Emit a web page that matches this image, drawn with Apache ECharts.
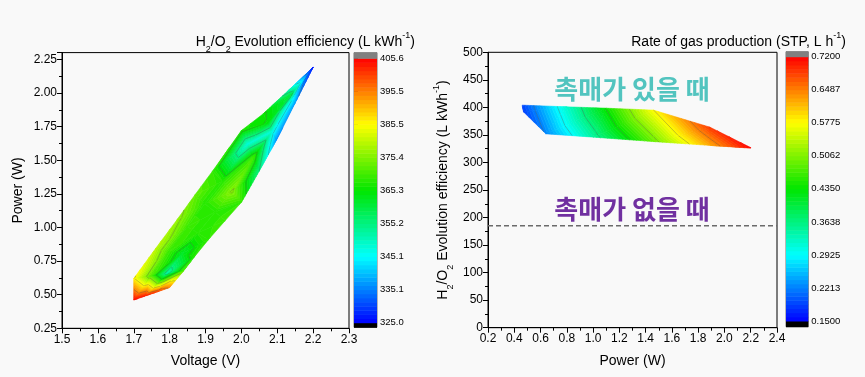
<!DOCTYPE html>
<html>
<head>
<meta charset="utf-8">
<script src="https://cdn.jsdelivr.net/npm/echarts@6/dist/echarts.min.js"></script>
<style>
  html, body { margin: 0; padding: 0; background: #f9f9f9; }
  #main { width: 865px; height: 377px; }
</style>
</head>
<body>
<div id="main"></div>
<script>
// ---- left: efficiency over (voltage, power); rows bottom -> top, columns left edge -> right edge
var effVolt = [
  [1.700, 1.733, 1.767, 1.800],
  [1.700, 1.747, 1.793, 1.840],
  [1.760, 1.797, 1.833, 1.870],
  [1.820, 1.849, 1.879, 1.908],
  [1.870, 1.898, 1.927, 1.955],
  [1.920, 1.947, 1.974, 2.001],
  [2.000, 2.017, 2.033, 2.050],
  [2.061, 2.073, 2.086, 2.098],
  [2.130, 2.137, 2.143, 2.150],
  [2.200, 2.200, 2.200, 2.200]
];
var effPower = [
  [0.460, 0.491, 0.522, 0.553],
  [0.620, 0.640, 0.660, 0.680],
  [0.840, 0.821, 0.803, 0.784],
  [1.055, 1.006, 0.958, 0.909],
  [1.240, 1.177, 1.114, 1.051],
  [1.420, 1.343, 1.267, 1.190],
  [1.720, 1.620, 1.520, 1.420],
  [1.845, 1.780, 1.715, 1.650],
  [2.016, 1.986, 1.955, 1.925],
  [2.190, 2.190, 2.190, 2.190]
];
var effValue = [
  [405, 403, 400, 395],
  [386, 372, 352, 371],
  [380, 370, 362, 368],
  [377, 370, 368, 369],
  [373, 368, 368, 370],
  [369, 368, 376, 369],
  [367, 348, 370, 355],
  [366, 365, 348, 336],
  [352, 360, 345, 337],
  [327, 327, 327, 327]
];
var effRange = [325.0, 405.6];
var effTicks = [325.0, 335.075, 345.15, 355.225, 365.3, 375.375, 385.45, 395.525, 405.6];
var effTickLabels = ['325.0', '335.1', '345.1', '355.2', '365.3', '375.4', '385.5', '395.5', '405.6'];

// ---- right: gas production rate over (power, efficiency); row 0 = lower edge, row 1 = upper edge
var ratePower = [
  [0.47, 0.64, 1.00, 1.46, 1.89, 2.20],
  [0.46, 0.80, 1.10, 1.46, 1.89, 2.20]
];
var rateEff = [
  [392, 352, 346, 338, 331, 326],
  [404, 401, 398.5, 395, 364, 327]
];
var rateValue = [
  [0.184, 0.225, 0.346, 0.493, 0.626, 0.717],
  [0.186, 0.321, 0.438, 0.577, 0.688, 0.719]
];
var rateRange = [0.15, 0.72];
var rateTicks = [0.15, 0.22125, 0.2925, 0.36375, 0.435, 0.50625, 0.5775, 0.64875, 0.72];
var rateTickLabels = ['0.1500', '0.2213', '0.2925', '0.3638', '0.4350', '0.5062', '0.5775', '0.6487', '0.7200'];

var noCatalystEff = 185;

var FONT = '"Liberation Sans", Arial, sans-serif';
var nBands = 64;
var rainbowStops = [
  [0, [0, 0, 255]],
  [0.25, [0, 255, 255]],
  [0.5, [0, 230, 0]],
  [0.75, [255, 255, 0]],
  [1, [255, 0, 0]]
];

function rainbow(t) {
  t = Math.max(0, Math.min(1, t));
  for (var i = 1; i < rainbowStops.length; i++) {
    if (t <= rainbowStops[i][0]) {
      var a = rainbowStops[i - 1], b = rainbowStops[i];
      var f = (t - a[0]) / (b[0] - a[0]);
      var c = a[1].map(function (v, k) { return Math.round(v + f * (b[1][k] - v)); });
      return 'rgb(' + c.join(',') + ')';
    }
  }
  return 'rgb(255,0,0)';
}

// split grid cells into triangles [x,y,v, x,y,v, x,y,v]
function triangles(xs, ys, vs) {
  var out = [];
  for (var r = 0; r < xs.length - 1; r++) {
    for (var c = 0; c < xs[r].length - 1; c++) {
      var a = [xs[r][c], ys[r][c], vs[r][c]];
      var b = [xs[r][c + 1], ys[r][c + 1], vs[r][c + 1]];
      var cc = [xs[r + 1][c + 1], ys[r + 1][c + 1], vs[r + 1][c + 1]];
      var d = [xs[r + 1][c], ys[r + 1][c], vs[r + 1][c]];
      out.push(a.concat(b, cc));
      out.push(a.concat(cc, d));
    }
  }
  return out;
}

function clip(poly, lv, above) {
  var out = [];
  for (var i = 0; i < poly.length; i++) {
    var a = poly[i], b = poly[(i + 1) % poly.length];
    var ina = above ? a[2] >= lv : a[2] <= lv;
    var inb = above ? b[2] >= lv : b[2] <= lv;
    if (ina) out.push(a);
    if (ina !== inb) {
      var t = (lv - a[2]) / (b[2] - a[2]);
      out.push([a[0] + t * (b[0] - a[0]), a[1] + t * (b[1] - a[1]), lv]);
    }
  }
  return out;
}

function contourRender(range, levels) {
  var lo = range[0], hi = range[1];
  var step = (hi - lo) / nBands;
  return function (params, api) {
    var pts = [0, 1, 2].map(function (k) {
      var p = api.coord([api.value(k * 3), api.value(k * 3 + 1)]);
      return [p[0], p[1], api.value(k * 3 + 2)];
    });
    var vals = pts.map(function (p) { return p[2]; });
    var vmin = Math.min.apply(null, vals), vmax = Math.max.apply(null, vals);
    var i0 = Math.max(0, Math.floor((vmin - lo) / step));
    var i1 = Math.min(nBands - 1, Math.floor((vmax - lo) / step));
    var children = [];
    for (var i = i0; i <= i1; i++) {
      var poly = pts;
      if (i > 0) poly = clip(poly, lo + i * step, true);
      if (i < nBands - 1) poly = clip(poly, lo + (i + 1) * step, false);
      if (poly.length < 3) continue;
      var col = rainbow((i + 0.5) / nBands);
      children.push({
        type: 'polygon',
        shape: { points: poly.map(function (p) { return [p[0], p[1]]; }) },
        style: { fill: col, stroke: col, lineWidth: 0.6 }
      });
    }
    levels.forEach(function (L) {
      var seg = [];
      for (var k = 0; k < 3; k++) {
        var a = pts[k], b = pts[(k + 1) % 3];
        if ((a[2] - L) * (b[2] - L) < 0) {
          var t = (L - a[2]) / (b[2] - a[2]);
          seg.push([a[0] + t * (b[0] - a[0]), a[1] + t * (b[1] - a[1])]);
        }
      }
      if (seg.length === 2) {
        children.push({
          type: 'line',
          shape: { x1: seg[0][0], y1: seg[0][1], x2: seg[1][0], y2: seg[1][1] },
          style: { stroke: 'rgba(70,70,70,0.55)', lineWidth: 0.6 }
        });
      }
    });
    return { type: 'group', children: children };
  };
}

// colour bar pieces [lo, hi, t]; t < 0 black floor, t > 1 grey cap
function barPieces(range, capBelow, capAbove) {
  var lo = range[0], hi = range[1], step = (hi - lo) / nBands;
  var out = [[lo - capBelow, lo, -1]];
  for (var i = 0; i < nBands; i++) {
    out.push([lo + i * step, lo + (i + 1) * step, (i + 0.5) / nBands]);
  }
  out.push([hi, hi + capAbove, 2]);
  return out;
}

function barRender(params, api) {
  var p0 = api.coord([0, api.value(0)]);
  var p1 = api.coord([1, api.value(1)]);
  var t = api.value(2);
  var col = t < 0 ? '#000' : (t > 1 ? '#808080' : rainbow(t));
  return {
    type: 'rect',
    shape: { x: p0[0], y: p1[1], width: p1[0] - p0[0], height: p0[1] - p1[1] + 0.5 },
    style: { fill: col }
  };
}

function tickLabel(ticks, labels) {
  return function (v) {
    var best = 0;
    for (var i = 1; i < ticks.length; i++) {
      if (Math.abs(ticks[i] - v) < Math.abs(ticks[best] - v)) best = i;
    }
    return labels[best];
  };
}

function richSet(size, small) {
  return {
    a: { fontSize: size, fontWeight: 'normal', fontFamily: FONT, color: '#000', lineHeight: size + 3 },
    s: { fontSize: small, fontWeight: 'normal', fontFamily: FONT, color: '#000', lineHeight: 10, verticalAlign: 'bottom', padding: [0, 0, -3, 0] },
    p: { fontSize: small, fontWeight: 'normal', fontFamily: FONT, color: '#000', lineHeight: 10, verticalAlign: 'top', padding: [-3, 0, 0, 0] }
  };
}
var effTitle = '{a|H}{s|2}{a|/O}{s|2}{a| Evolution efficiency (L kWh}{p|-1}{a|)}';

function plotAxis(extra) {
  return Object.assign({
    type: 'value',
    axisLine: { show: true, lineStyle: { color: '#000', width: 1 } },
    axisTick: { show: true, length: 5, lineStyle: { color: '#000' } },
    minorTick: { show: true, splitNumber: 2, length: 3, lineStyle: { color: '#000' } },
    splitLine: { show: false },
    nameLocation: 'middle',
    nameTextStyle: { color: '#000', fontSize: 14, fontFamily: FONT }
  }, extra);
}

function tickText(digits, extra) {
  return Object.assign({
    color: '#000', fontSize: 12, fontFamily: FONT, margin: 5,
    formatter: function (v) { return v.toFixed(digits); }
  }, extra || {});
}

function barAxis(range, capBelow, capAbove, ticks, labels, grid) {
  return {
    type: 'value', gridIndex: grid, position: 'right',
    min: range[0] - capBelow, max: range[1] + capAbove,
    axisLine: { show: false },
    splitLine: { show: false },
    axisTick: { show: true, length: 4, customValues: ticks, lineStyle: { color: '#000' } },
    axisLabel: {
      show: true, customValues: ticks, formatter: tickLabel(ticks, labels),
      fontSize: 9.5, fontFamily: FONT, color: '#000', margin: 3
    }
  };
}

var option = {
  backgroundColor: '#f9f9f9',
  animation: false,
  title: [
    { text: effTitle, right: 445, top: 29, textStyle: { fontWeight: 'normal', rich: richSet(14, 9) } },
    { text: '{a|Rate of gas production (STP, L h}{p|-1}{a|)}', right: 14, top: 29,
      textStyle: { fontWeight: 'normal', rich: richSet(14, 9) } }
  ],
  grid: [
    { left: 62, top: 52.6, width: 287, height: 275.7, show: true, borderColor: '#000', borderWidth: 1, backgroundColor: 'transparent' },
    { left: 354, top: 52.7, width: 23, height: 274.6, show: true, borderColor: '#555', borderWidth: 0.8, backgroundColor: 'transparent' },
    { left: 488, top: 52.3, width: 289, height: 275.4, show: true, borderColor: '#000', borderWidth: 1, backgroundColor: 'transparent' },
    { left: 786, top: 51.7, width: 22.3, height: 275, show: true, borderColor: '#555', borderWidth: 0.8, backgroundColor: 'transparent' }
  ],
  xAxis: [
    plotAxis({ gridIndex: 0, min: 1.5, max: 2.3, interval: 0.1, name: 'Voltage (V)', nameGap: 26, axisLabel: tickText(1) }),
    { type: 'value', gridIndex: 1, min: 0, max: 1, show: false },
    plotAxis({ gridIndex: 2, min: 0.2, max: 2.4, interval: 0.2, name: 'Power (W)', nameGap: 26, axisLabel: tickText(1) }),
    { type: 'value', gridIndex: 3, min: 0, max: 1, show: false }
  ],
  yAxis: [
    plotAxis({ gridIndex: 0, min: 0.25, max: 2.3, interval: 0.25, name: 'Power (W)', nameGap: 37,
      axisLabel: tickText(2, { showMaxLabel: false }) }),
    barAxis(effRange, 1.4, 1.7, effTicks, effTickLabels, 1),
    plotAxis({ gridIndex: 2, min: 0, max: 500, interval: 50, name: effTitle, nameGap: 36,
      axisLabel: tickText(0), nameTextStyle: { rich: richSet(14, 9) } }),
    barAxis(rateRange, 0.0123, 0.0108, rateTicks, rateTickLabels, 3)
  ],
  graphic: [
    { type: 'text', x: 632, y: 89, style: { text: '촉매가 있을 때', align: 'center', verticalAlign: 'middle',
      fill: '#52c4bf', fontSize: 26, fontWeight: 'bold', fontFamily: '"Noto Sans CJK KR", sans-serif' } },
    { type: 'text', x: 632, y: 209, style: { text: '촉매가 없을 때', align: 'center', verticalAlign: 'middle',
      fill: '#7030a0', fontSize: 26, fontWeight: 'bold', fontFamily: '"Noto Sans CJK KR", sans-serif' } }
  ],
  series: [
    { type: 'custom', xAxisIndex: 0, yAxisIndex: 0, silent: true, clip: true,
      renderItem: contourRender(effRange, effTicks.slice(1, -1)),
      data: triangles(effVolt, effPower, effValue) },
    { type: 'custom', xAxisIndex: 1, yAxisIndex: 1, silent: true,
      renderItem: barRender, data: barPieces(effRange, 1.4, 1.7) },
    { type: 'custom', xAxisIndex: 2, yAxisIndex: 2, silent: true, clip: true,
      renderItem: contourRender(rateRange, rateTicks.slice(1, -1)),
      data: triangles(ratePower, rateEff, rateValue) },
    { type: 'line', xAxisIndex: 2, yAxisIndex: 2, silent: true, symbol: 'none',
      lineStyle: { color: '#6b6b6b', width: 1.5, type: [5, 3] },
      data: [[0.2, noCatalystEff], [2.4, noCatalystEff]] },
    { type: 'custom', xAxisIndex: 3, yAxisIndex: 3, silent: true,
      renderItem: barRender, data: barPieces(rateRange, 0.0123, 0.0108) }
  ]
};

var chart = echarts.init(document.getElementById('main'));
chart.setOption(option);
</script>
</body>
</html>
